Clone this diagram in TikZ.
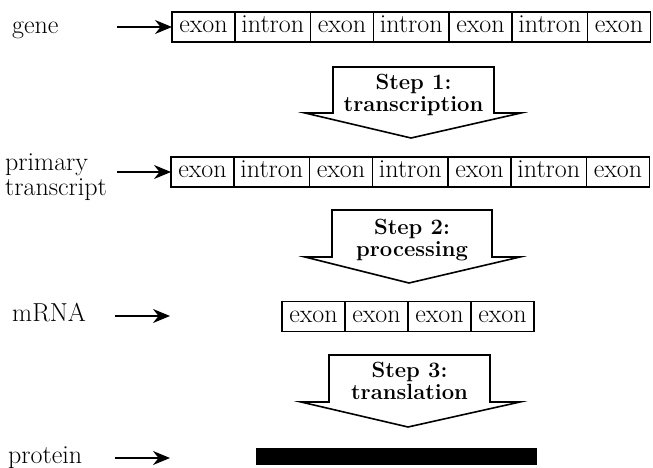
\documentclass[tikz,border=0pt]{standalone}
\usetikzlibrary{positioning,arrows.meta}
\begin{document}
\begin{tikzpicture}[
  x=1pt, y=-1pt,
  every node/.style={font=\fontsize{26}{25}\selectfont},
  seg/.style={draw, line width=1.6pt, outer sep=0pt, inner sep=0pt,
              minimum height=30pt, text height=11pt, text depth=0pt},
  exon/.style={seg, minimum width=63pt},
  intron/.style={seg, minimum width=75.5pt},
  lbl/.style={anchor=base west, inner sep=0pt, align=left},
  arrow/.style={-{Stealth[length=17pt,width=14pt]}, line width=1.5pt},
  stepshape/.style={draw, line width=1.6pt, line join=miter},
  steptext/.style={font=\fontsize{22}{22}\selectfont\bfseries, align=center, inner sep=0pt}
]
  \useasboundingbox (0,0) rectangle (653,468);

  % gene
  \node[lbl] (gene) at (12,34) {gene};
  \coordinate (gene-tail) at (117,27);
  \node[exon, anchor=west] (g1) at (172,27) {exon};
  \node[intron, right=0pt of g1] (g2) {intron};
  \node[exon, right=0pt of g2] (g3) {exon};
  \node[intron, right=0pt of g3] (g4) {intron};
  \node[exon, right=0pt of g4] (g5) {exon};
  \node[intron, right=0pt of g5] (g6) {intron};
  \node[exon, right=0pt of g6] (g7) {exon};
  \draw[arrow] (gene-tail) -- (g1.west);

  % step 1
  \draw[stepshape] (333,67) -- (494,67) -- (494,113) -- (521,113) -- (411,138)
    -- (305,113) -- (333,113) -- cycle;
  \node[steptext] (step1) at (413.5,95) {Step 1:\\transcription};

  % primary transcript
  \node[lbl] (primary) at (5,195) {primary\\transcript};
  \coordinate (primary-tail) at (117,172);
  \node[exon, anchor=west] (p1) at (171,172) {exon};
  \node[intron, right=0pt of p1] (p2) {intron};
  \node[exon, right=0pt of p2] (p3) {exon};
  \node[intron, right=0pt of p3] (p4) {intron};
  \node[exon, right=0pt of p4] (p5) {exon};
  \node[intron, right=0pt of p5] (p6) {intron};
  \node[exon, right=0pt of p6] (p7) {exon};
  \draw[arrow] (primary-tail) -- (p1.west);

  % step 2
  \draw[stepshape] (332,210) -- (492,210) -- (492,257) -- (520,257) -- (409,283)
    -- (305,257) -- (332,257) -- cycle;
  \node[steptext] (step2) at (412,240) {Step 2:\\processing};

  % mRNA
  \node[lbl] (mrna) at (12,321) {mRNA};
  \coordinate (mrna-tail) at (115,316);
  \coordinate (mrna-head) at (170,316);
  \draw[arrow] (mrna-tail) -- (mrna-head);
  \node[exon, anchor=west] (m1) at (282,316.5) {exon};
  \node[exon, right=0pt of m1] (m2) {exon};
  \node[exon, right=0pt of m2] (m3) {exon};
  \node[exon, right=0pt of m3] (m4) {exon};

  % step 3
  \draw[stepshape] (329,355) -- (490,355) -- (490,402) -- (520,402) -- (408,427)
    -- (301,402) -- (329,402) -- cycle;
  \node[steptext] (step3) at (409.5,381) {Step 3:\\translation};

  % protein
  \node[lbl] (protein) at (8,463) {protein};
  \coordinate (protein-tail) at (115,458);
  \coordinate (protein-head) at (170,458);
  \draw[arrow] (protein-tail) -- (protein-head);
  \node[fill=black, inner sep=0pt, minimum width=281pt, minimum height=17pt]
    (chain) at (396.5,456.5) {};
\end{tikzpicture}
\end{document}
